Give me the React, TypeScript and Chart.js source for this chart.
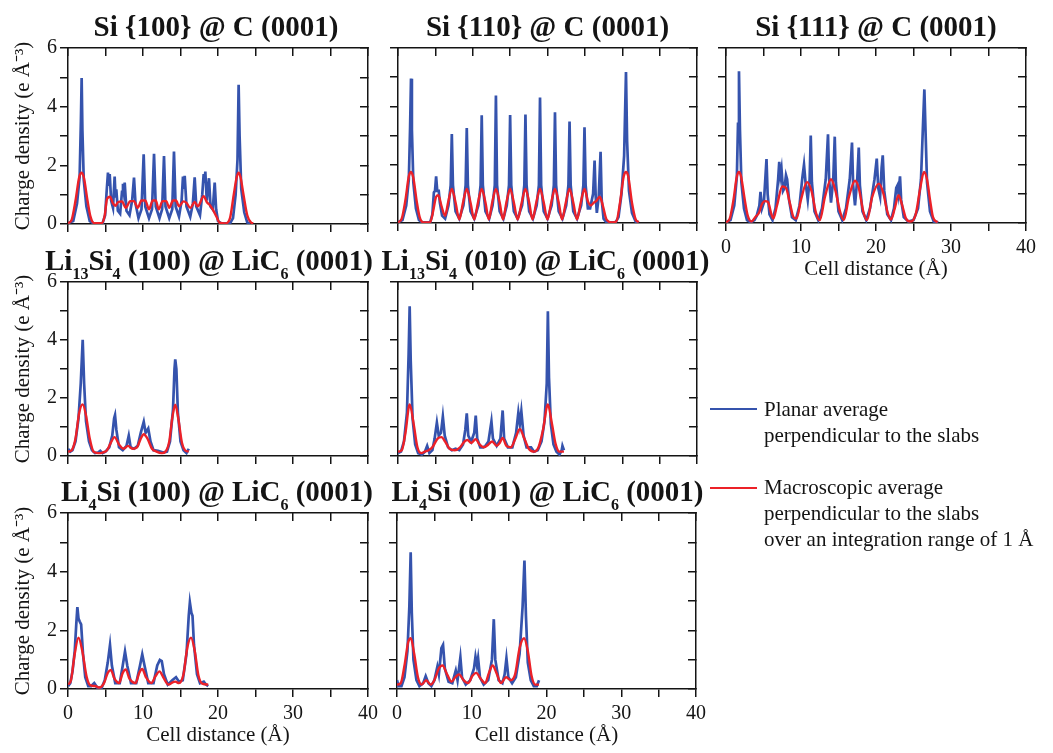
import React, { useEffect, useRef } from 'react';
import { Chart, registerables } from 'chart.js';

Chart.register(...registerables);

type Pt = [number, number];

// ---- axis ranges / ticks ----
const X_MIN = 0;
const X_MAX = 40;
const X_STEP = 5;
const xLabelEvery = 10;
const Y_MIN = 0;
const Y_MAX = 6;
const Y_STEP = 1;
const yLabelEvery = 2;

const xAxisTitle = 'Cell distance (Å)';
const yAxisTitle = 'Charge density (e Å⁻³)';
const legendPlanar = ['Planar average', 'perpendicular to the slabs'];
const legendMacro = ['Macroscopic average', 'perpendicular to the slabs', 'over an integration range of 1 Å'];

// ---- Si {100} @ C (0001) ----
const si100Planar: Pt[] = [[0,0.03],[0.7,0.1],[1.2,0.7],[1.55,1.6],[1.72,3.5],[1.82,4.98],[1.92,3.2],[2.1,1.5],[2.45,0.6],[2.9,0.1],[3.4,0.02],[4.6,0.02],[4.95,0.3],[5.15,1.1],[5.33,1.75],[5.45,1.3],[5.56,1.7],[5.75,0.8],[6.0,0.55],[6.22,1.62],[6.34,0.9],[6.44,1.18],[6.65,0.45],[6.95,0.35],[7.2,1.1],[7.33,1.37],[7.45,1.1],[7.56,1.41],[7.8,0.45],[8.2,0.3],[8.55,0.8],[8.8,1.58],[9.0,0.7],[9.4,0.2],[9.8,0.5],[10.09,2.38],[10.3,0.6],[10.8,0.2],[11.2,0.5],[11.47,2.39],[11.7,0.6],[12.2,0.2],[12.55,0.5],[12.8,2.32],[13.0,0.6],[13.5,0.2],[13.9,0.5],[14.13,2.47],[14.35,0.6],[14.8,0.25],[15.15,0.8],[15.33,1.62],[15.45,1.2],[15.56,1.64],[15.8,0.6],[16.3,0.25],[16.65,0.7],[16.89,1.59],[17.1,0.6],[17.6,0.3],[17.9,1.0],[18.09,1.7],[18.2,1.4],[18.31,1.79],[18.5,0.8],[18.8,1.56],[19.0,0.6],[19.3,0.5],[19.56,1.41],[19.75,0.5],[20.0,0.1],[20.4,0.02],[21.6,0.02],[22.0,0.2],[22.35,1.0],[22.6,2.2],[22.75,4.75],[22.88,3.0],[23.1,1.2],[23.5,0.4],[23.9,0.05],[24.3,0.02]];
const si100Macro: Pt[] = [[0,0.02],[0.5,0.15],[1.0,0.8],[1.5,1.6],[1.8,1.75],[2.1,1.6],[2.6,0.8],[3.0,0.25],[3.5,0.03],[4.5,0.03],[4.9,0.3],[5.2,0.85],[5.6,0.93],[6.0,0.7],[6.3,0.62],[6.7,0.75],[7.2,0.77],[7.7,0.55],[8.3,0.78],[8.8,0.78],[9.3,0.55],[9.8,0.8],[10.3,0.8],[10.8,0.5],[11.3,0.8],[11.7,0.8],[12.1,0.5],[12.6,0.78],[13.1,0.78],[13.5,0.55],[14.0,0.8],[14.4,0.8],[14.8,0.6],[15.4,0.77],[15.8,0.72],[16.3,0.55],[16.9,0.75],[17.3,0.6],[18.1,0.95],[18.5,0.75],[18.9,0.65],[19.3,0.5],[19.8,0.25],[20.2,0.05],[21.0,0.02],[21.6,0.2],[22.1,1.0],[22.5,1.6],[22.75,1.75],[23.0,1.6],[23.4,1.0],[23.9,0.3],[24.4,0.05],[24.7,0.02]];

// ---- Si {110} @ C (0001) ----
const si110Planar: Pt[] = [[0,0.03],[0.6,0.1],[1.1,0.6],[1.45,1.5],[1.62,3.3],[1.74,4.95],[1.86,3.2],[2.05,1.4],[2.4,0.5],[2.8,0.1],[3.2,0.02],[4.3,0.02],[4.6,0.3],[4.8,1.05],[4.95,1.1],[5.1,1.6],[5.25,1.1],[5.45,1.1],[5.6,0.7],[5.9,0.25],[6.3,0.15],[6.75,0.6],[7.05,1.3],[7.2,3.05],[7.35,1.3],[7.7,0.4],[8.2,0.15],[8.75,0.6],[9.05,1.3],[9.2,3.26],[9.35,1.3],[9.7,0.4],[10.2,0.15],[10.75,0.6],[11.05,1.3],[11.2,3.69],[11.35,1.3],[11.7,0.4],[12.2,0.15],[12.65,0.6],[12.95,1.3],[13.1,4.37],[13.25,1.3],[13.6,0.4],[14.1,0.15],[14.55,0.6],[14.85,1.3],[15.0,3.7],[15.15,1.3],[15.5,0.4],[16.0,0.15],[16.6,0.6],[16.9,1.3],[17.05,3.72],[17.2,1.3],[17.55,0.4],[18.05,0.15],[18.55,0.6],[18.85,1.3],[19.0,4.3],[19.15,1.3],[19.5,0.4],[20.0,0.15],[20.55,0.6],[20.85,1.3],[21.0,3.8],[21.15,1.3],[21.5,0.4],[22.0,0.15],[22.5,0.6],[22.8,1.3],[22.95,3.48],[23.1,1.3],[23.45,0.4],[23.95,0.15],[24.5,0.6],[24.8,1.3],[24.95,3.28],[25.1,1.3],[25.4,0.5],[25.7,0.5],[26.1,1.0],[26.3,2.14],[26.45,0.9],[26.6,0.35],[26.85,0.9],[27.1,2.44],[27.25,0.8],[27.5,0.15],[27.9,0.02],[29.1,0.02],[29.5,0.2],[29.9,1.0],[30.25,2.3],[30.5,5.18],[30.65,2.8],[30.9,1.1],[31.3,0.35],[31.8,0.05],[32.2,0.02]];
const si110Macro: Pt[] = [[0,0.02],[0.5,0.15],[1.0,0.8],[1.45,1.6],[1.74,1.75],[2.05,1.55],[2.5,0.75],[2.9,0.2],[3.4,0.02],[4.3,0.03],[4.7,0.4],[5.1,0.9],[5.4,0.95],[5.8,0.6],[6.3,0.25],[6.7,0.7],[7.2,1.17],[7.7,0.7],[8.2,0.12],[8.7,0.7],[9.2,1.17],[9.7,0.7],[10.2,0.12],[10.7,0.7],[11.2,1.17],[11.7,0.7],[12.15,0.12],[12.6,0.7],[13.1,1.17],[13.6,0.7],[14.05,0.12],[14.5,0.7],[15.0,1.17],[15.5,0.7],[16.0,0.12],[16.55,0.7],[17.05,1.17],[17.55,0.7],[18.0,0.12],[18.5,0.7],[19.0,1.17],[19.5,0.7],[20.0,0.12],[20.5,0.7],[21.0,1.17],[21.5,0.7],[21.95,0.12],[22.45,0.7],[22.95,1.17],[23.45,0.7],[23.95,0.12],[24.45,0.7],[24.95,1.17],[25.4,0.75],[25.8,0.6],[26.2,0.7],[26.5,0.75],[27.0,0.9],[27.4,0.6],[27.9,0.12],[28.6,0.02],[29.2,0.05],[29.7,0.7],[30.2,1.6],[30.5,1.75],[30.8,1.6],[31.3,0.7],[31.8,0.12],[32.2,0.03]];

// ---- Si {111} @ C (0001) ----
const si111Planar: Pt[] = [[0,0.03],[0.6,0.1],[1.1,0.6],[1.45,1.6],[1.6,3.4],[1.73,5.2],[1.86,3.2],[2.05,1.4],[2.4,0.5],[2.8,0.1],[3.3,0.02],[3.8,0.1],[4.1,0.25],[4.45,0.6],[4.6,1.07],[4.8,0.5],[5.05,0.7],[5.4,2.19],[5.55,1.0],[5.8,0.3],[6.2,0.1],[6.6,0.5],[6.95,1.5],[7.1,2.1],[7.25,1.6],[7.4,1.85],[7.6,1.1],[7.8,1.2],[8.0,1.64],[8.15,1.5],[8.4,0.8],[8.8,0.2],[9.3,0.1],[9.8,0.6],[10.2,1.6],[10.4,2.0],[10.6,1.4],[10.9,0.8],[11.15,1.5],[11.3,3.0],[11.45,1.4],[11.8,0.4],[12.3,0.1],[12.8,0.5],[13.3,1.5],[13.6,3.04],[13.75,1.5],[14.0,0.7],[14.3,1.5],[14.5,2.96],[14.65,1.4],[15.0,0.4],[15.5,0.1],[16.0,0.5],[16.5,1.5],[16.8,2.76],[16.95,1.3],[17.2,0.6],[17.5,1.5],[17.7,2.59],[17.85,1.3],[18.2,0.4],[18.7,0.1],[19.2,0.5],[19.8,1.5],[20.1,2.21],[20.3,1.2],[20.55,0.9],[20.75,1.9],[20.9,2.32],[21.1,1.1],[21.5,0.3],[22.0,0.1],[22.4,0.5],[22.7,1.2],[22.85,1.28],[23.0,1.0],[23.2,1.6],[23.35,0.8],[23.7,0.2],[24.3,0.05],[25.0,0.1],[25.6,0.5],[26.0,1.5],[26.3,3.6],[26.45,4.58],[26.6,3.2],[26.8,1.4],[27.2,0.4],[27.7,0.05],[28.3,0.02]];
const si111Macro: Pt[] = [[0,0.02],[0.5,0.15],[1.0,0.8],[1.45,1.6],[1.73,1.75],[2.0,1.6],[2.5,0.8],[2.9,0.25],[3.4,0.05],[3.9,0.2],[4.4,0.35],[4.8,0.65],[5.2,0.75],[5.6,0.72],[6.0,0.35],[6.3,0.15],[6.8,0.6],[7.5,1.25],[8.0,1.2],[8.5,0.7],[9.0,0.2],[9.4,0.15],[10.0,0.8],[10.8,1.4],[11.4,1.1],[12.0,0.35],[12.5,0.1],[13.2,0.9],[14.0,1.5],[14.6,1.1],[15.2,0.4],[15.7,0.1],[16.4,0.9],[17.2,1.45],[17.7,1.2],[18.3,0.4],[18.8,0.1],[19.5,0.9],[20.4,1.35],[21.0,1.0],[21.5,0.4],[22.0,0.12],[22.5,0.5],[23.0,0.95],[23.5,0.6],[24.0,0.15],[24.6,0.05],[25.3,0.3],[25.9,1.2],[26.4,1.75],[26.8,1.5],[27.2,0.8],[27.6,0.2],[28.2,0.02]];

// ---- Li13Si4 (100) @ LiC6 (0001) ----
const li13Si4_100Planar: Pt[] = [[0,0.25],[0.3,0.15],[0.6,0.2],[1.0,0.5],[1.4,1.3],[1.7,2.5],[1.96,4.01],[2.15,2.5],[2.4,1.2],[2.8,0.5],[3.2,0.2],[3.6,0.1],[4.0,0.12],[4.3,0.18],[4.6,0.1],[5.0,0.15],[5.5,0.3],[5.9,0.7],[6.15,1.3],[6.27,1.41],[6.45,0.9],[6.8,0.3],[7.3,0.2],[7.8,0.35],[8.1,0.7],[8.35,0.3],[8.8,0.25],[9.3,0.35],[9.7,0.8],[10.1,1.18],[10.35,0.8],[10.7,0.95],[11.0,0.5],[11.4,0.2],[12.0,0.18],[12.7,0.12],[13.2,0.15],[13.6,0.5],[14.0,1.6],[14.2,3.0],[14.3,3.33],[14.45,3.0],[14.65,1.5],[15.0,0.5],[15.4,0.2],[15.8,0.1],[16.1,0.25]];
const li13Si4_100Macro: Pt[] = [[0,0.15],[0.5,0.2],[1.0,0.6],[1.5,1.5],[1.96,1.78],[2.4,1.4],[2.9,0.6],[3.4,0.15],[4.0,0.1],[4.6,0.12],[5.2,0.2],[5.7,0.45],[6.2,0.65],[6.8,0.4],[7.4,0.25],[8.0,0.35],[8.6,0.25],[9.2,0.3],[9.7,0.6],[10.1,0.75],[10.6,0.6],[11.2,0.25],[11.8,0.15],[12.5,0.1],[13.0,0.15],[13.5,0.5],[13.9,1.3],[14.3,1.77],[14.7,1.3],[15.2,0.45],[15.6,0.2],[16.1,0.15]];

// ---- Li13Si4 (010) @ LiC6 (0001) ----
const li13Si4_010Planar: Pt[] = [[0,0.1],[0.4,0.15],[0.8,0.5],[1.2,1.5],[1.42,3.5],[1.56,5.16],[1.7,3.3],[1.95,1.3],[2.3,0.4],[2.7,0.1],[3.2,0.05],[3.6,0.15],[3.9,0.35],[4.2,0.1],[4.6,0.2],[4.9,0.6],[5.2,1.15],[5.45,0.7],[5.75,0.8],[6.0,1.36],[6.25,0.7],[6.7,0.3],[7.2,0.2],[7.7,0.25],[8.2,0.2],[8.7,0.4],[9.0,0.9],[9.2,1.47],[9.4,0.7],[9.8,0.5],[10.2,0.8],[10.4,1.39],[10.6,0.6],[11.0,0.3],[11.4,0.3],[11.7,0.35],[12.1,0.5],[12.5,1.19],[12.7,0.6],[13.2,0.35],[13.7,0.6],[14.0,1.57],[14.2,0.6],[14.7,0.3],[15.3,0.3],[15.8,0.8],[16.1,1.5],[16.3,1.1],[16.5,1.54],[16.8,0.7],[17.2,0.3],[17.8,0.3],[18.2,0.15],[18.7,0.2],[19.2,0.5],[19.6,1.2],[19.9,2.5],[20.05,4.99],[20.2,2.7],[20.45,1.1],[20.8,0.4],[21.2,0.15],[21.6,0.05],[21.9,0.2],[22.0,0.35],[22.2,0.2]];
const li13Si4_010Macro: Pt[] = [[0,0.15],[0.5,0.2],[1.0,0.8],[1.56,1.78],[2.1,1.1],[2.6,0.3],[3.1,0.1],[3.6,0.15],[4.1,0.2],[4.6,0.3],[5.3,0.6],[5.8,0.65],[6.3,0.5],[6.9,0.25],[7.6,0.2],[8.3,0.3],[8.9,0.5],[9.3,0.55],[9.8,0.45],[10.4,0.58],[10.9,0.4],[11.5,0.3],[12.1,0.4],[12.6,0.5],[13.2,0.35],[13.6,0.45],[14.0,0.62],[14.5,0.35],[15.1,0.3],[15.7,0.6],[16.3,0.93],[16.9,0.6],[17.5,0.25],[18.2,0.15],[18.8,0.3],[19.4,0.9],[20.05,1.78],[20.6,1.1],[21.1,0.4],[21.6,0.15],[22.2,0.15]];

// ---- Li4Si (100) @ LiC6 (0001) ----
const li4Si_100Planar: Pt[] = [[0,0.1],[0.3,0.2],[0.6,0.6],[0.9,1.3],[1.1,2.2],[1.25,2.79],[1.4,2.4],[1.56,2.3],[1.75,2.2],[2.0,1.2],[2.3,0.4],[2.7,0.1],[3.1,0.1],[3.5,0.2],[3.9,0.05],[4.5,0.05],[4.9,0.3],[5.3,0.9],[5.6,1.5],[5.85,0.8],[6.3,0.2],[6.9,0.2],[7.3,0.8],[7.6,1.28],[7.9,0.8],[8.4,0.2],[9.1,0.2],[9.6,0.8],[9.9,1.18],[10.2,0.8],[10.7,0.2],[11.4,0.2],[11.9,0.8],[12.25,0.99],[12.5,0.95],[12.8,0.5],[13.3,0.15],[13.9,0.3],[14.4,0.4],[14.8,0.25],[15.3,0.3],[15.8,1.2],[16.1,2.5],[16.25,2.95],[16.45,2.6],[16.6,2.5],[16.8,1.5],[17.2,0.5],[17.6,0.2],[18.1,0.25],[18.4,0.15],[18.7,0.1]];
const li4Si_100Macro: Pt[] = [[0,0.15],[0.4,0.3],[0.9,1.2],[1.4,1.75],[1.9,1.3],[2.5,0.4],[3.0,0.12],[3.6,0.1],[4.2,0.05],[4.8,0.2],[5.3,0.55],[5.7,0.65],[6.2,0.35],[6.8,0.2],[7.3,0.55],[7.7,0.67],[8.2,0.35],[9.0,0.2],[9.5,0.55],[9.9,0.68],[10.4,0.4],[11.1,0.2],[11.7,0.45],[12.2,0.6],[12.7,0.4],[13.4,0.15],[13.9,0.22],[14.3,0.25],[14.8,0.2],[15.4,0.5],[15.9,1.4],[16.4,1.75],[16.9,1.3],[17.4,0.45],[17.9,0.18],[18.7,0.15]];

// ---- Li4Si (001) @ LiC6 (0001) ----
const li4Si_001Planar: Pt[] = [[0,0.3],[0.2,0.1],[0.6,0.1],[1.0,0.4],[1.4,1.3],[1.65,2.8],[1.83,4.66],[1.98,2.6],[2.2,1.0],[2.6,0.3],[3.0,0.1],[3.5,0.2],[3.84,0.44],[4.2,0.2],[4.6,0.1],[5.0,0.3],[5.4,0.76],[5.6,0.5],[5.94,1.39],[6.16,1.5],[6.4,0.7],[6.9,0.25],[7.4,0.2],[7.86,0.63],[8.1,0.3],[8.48,1.08],[8.7,0.4],[9.2,0.15],[9.8,0.3],[10.3,0.7],[10.5,1.1],[10.7,0.8],[10.85,1.05],[11.1,0.4],[11.6,0.15],[12.2,0.3],[12.7,1.0],[12.95,2.38],[13.15,1.0],[13.6,0.3],[14.1,0.2],[14.4,0.5],[14.64,1.05],[14.9,0.4],[15.4,0.2],[15.9,0.4],[16.4,1.2],[16.8,2.8],[17.05,4.38],[17.25,2.5],[17.5,0.9],[17.9,0.3],[18.3,0.1],[18.7,0.1],[19.0,0.3]];
const li4Si_001Macro: Pt[] = [[0,0.15],[0.5,0.2],[1.0,0.8],[1.5,1.6],[1.85,1.73],[2.3,1.2],[2.8,0.4],[3.3,0.15],[3.9,0.3],[4.5,0.15],[5.0,0.3],[5.6,0.7],[6.1,0.8],[6.7,0.5],[7.3,0.25],[7.8,0.4],[8.3,0.5],[8.9,0.3],[9.5,0.2],[10.1,0.45],[10.6,0.55],[11.2,0.35],[11.8,0.2],[12.3,0.55],[12.8,0.8],[13.3,0.55],[13.9,0.2],[14.6,0.4],[15.2,0.3],[15.8,0.5],[16.4,1.4],[17.0,1.73],[17.5,1.3],[18.0,0.45],[18.5,0.15],[19.0,0.15]];

// ---- styling ----
const FONT = "'Liberation Serif', 'Times New Roman', Times, serif";
const BLUE = '#3553ad';
const RED = '#ec2128';
const INK = '#141414';

type TitlePart = [string, boolean];

interface PanelDef {
  title: TitlePart[];
  l: number; t: number; r: number; b: number;
  showY: boolean; showX: boolean;
  titleTop: number; titleShift: number;
  planar: Pt[]; macro: Pt[];
}

const panels: PanelDef[] = [
  { title: [['Si {100} @ C (0001)', false]], l: 68, t: 48, r: 368, b: 224, showY: true, showX: false, titleTop: 12, titleShift: -2, planar: si100Planar, macro: si100Macro },
  { title: [['Si {110} @ C (0001)', false]], l: 398, t: 48, r: 697, b: 223, showY: false, showX: false, titleTop: 12, titleShift: 0, planar: si110Planar, macro: si110Macro },
  { title: [['Si {111} @ C (0001)', false]], l: 726, t: 48, r: 1026, b: 223, showY: false, showX: true, titleTop: 12, titleShift: 0, planar: si111Planar, macro: si111Macro },
  { title: [['Li', false], ['13', true], ['Si', false], ['4', true], [' (100) @ LiC', false], ['6', true], [' (0001)', false]], l: 68, t: 282, r: 368, b: 456, showY: true, showX: false, titleTop: 246, titleShift: -9, planar: li13Si4_100Planar, macro: li13Si4_100Macro },
  { title: [['Li', false], ['13', true], ['Si', false], ['4', true], [' (010) @ LiC', false], ['6', true], [' (0001)', false]], l: 398, t: 282, r: 697, b: 456, showY: false, showX: false, titleTop: 246, titleShift: -2, planar: li13Si4_010Planar, macro: li13Si4_010Macro },
  { title: [['Li', false], ['4', true], ['Si (100) @ LiC', false], ['6', true], [' (0001)', false]], l: 68, t: 513, r: 368, b: 689, showY: true, showX: true, titleTop: 477, titleShift: -1, planar: li4Si_100Planar, macro: li4Si_100Macro },
  { title: [['Li', false], ['4', true], ['Si (001) @ LiC', false], ['6', true], [' (0001)', false]], l: 397, t: 513, r: 696, b: 689, showY: false, showX: true, titleTop: 477, titleShift: 1, planar: li4Si_001Planar, macro: li4Si_001Macro },
];

const PAD = 14;

function Panel({ p }: { p: PanelDef }) {
  const ref = useRef<HTMLCanvasElement>(null);
  const yw = p.showY ? p.l - 7 : 12;
  const xh = p.showX ? 63 : 12;
  const cl = p.l - yw;
  const ct = p.t - PAD;
  const cw = p.r + PAD - cl;
  const ch = p.b + xh - ct;

  useEffect(() => {
    if (!ref.current) return;
    const tickFont = { family: FONT, size: 20 };
    const titleFont = { family: FONT, size: 21 };
    const axisCommon = (dir: 'x' | 'y', inner: boolean) => ({
      type: 'linear' as const,
      min: dir === 'x' ? X_MIN : Y_MIN,
      max: dir === 'x' ? X_MAX : Y_MAX,
      grid: { display: true, drawOnChartArea: false, drawTicks: true, tickLength: inner ? -8 : 8, color: INK, lineWidth: 1.5 },
      border: { display: true, color: INK, width: 1.5 },
    });
    const chart = new Chart(ref.current, {
      type: 'line',
      data: {
        datasets: [
          {
            label: 'macro',
            data: p.macro.map(([x, y]) => ({ x, y })),
            borderColor: RED,
            borderWidth: 2.4,
            pointRadius: 0,
            cubicInterpolationMode: 'monotone',
            fill: false,
            order: 0,
          },
          {
            label: 'planar',
            data: p.planar.map(([x, y]) => ({ x, y })),
            borderColor: BLUE,
            borderWidth: 2.7,
            pointRadius: 0,
            tension: 0,
            fill: false,
            order: 1,
          },
        ],
      },
      options: {
        animation: false,
        responsive: false,
        devicePixelRatio: 1,
        events: [],
        layout: { padding: { left: 0, top: PAD, right: PAD, bottom: 0 } },
        plugins: { legend: { display: false }, title: { display: false }, tooltip: { enabled: false } },
        scales: {
          x: {
            ...axisCommon('x', false),
            position: 'bottom',
            afterFit: (s: any) => { s.height = xh; s.paddingLeft = 0; s.paddingRight = 0; },
            ticks: {
              display: p.showX, stepSize: X_STEP, autoSkip: false, maxRotation: 0, padding: 5,
              color: INK, font: tickFont,
              callback: (v: any) => (Number(v) % xLabelEvery === 0 ? String(v) : ''),
            },
            title: { display: p.showX, text: xAxisTitle, color: INK, font: titleFont, padding: { top: 0, bottom: 4 } },
          },
          x2: {
            ...axisCommon('x', true),
            position: 'top',
            afterFit: (s: any) => { s.height = 0; s.paddingLeft = 0; s.paddingRight = 0; },
            ticks: { display: false, stepSize: X_STEP, autoSkip: false },
          },
          y: {
            ...axisCommon('y', false),
            position: 'left',
            afterFit: (s: any) => { s.width = yw; s.paddingTop = 0; s.paddingBottom = 0; },
            ticks: {
              display: p.showY, stepSize: Y_STEP, autoSkip: false, padding: 3,
              color: INK, font: tickFont,
              callback: (v: any) => (Number(v) % yLabelEvery === 0 ? String(v) : ''),
            },
            title: { display: p.showY, text: yAxisTitle, color: INK, font: titleFont, padding: { top: 4, bottom: 0 } },
          },
          y2: {
            ...axisCommon('y', true),
            position: 'right',
            afterFit: (s: any) => { s.width = 0; s.paddingTop = 0; s.paddingBottom = 0; },
            ticks: { display: false, stepSize: Y_STEP, autoSkip: false },
          },
        },
      } as any,
    });
    return () => chart.destroy();
  }, []);

  return (
    <canvas
      ref={ref}
      width={cw}
      height={ch}
      style={{ position: 'absolute', left: cl, top: ct, width: cw, height: ch }}
    />
  );
}

function Title({ p }: { p: PanelDef }) {
  const cx = (p.l + p.r) / 2 + p.titleShift;
  return (
    <div
      style={{
        position: 'absolute', left: cx - 300, top: p.titleTop, width: 600, textAlign: 'center',
        fontFamily: FONT, fontWeight: 'bold', fontSize: 29, lineHeight: '29px', color: INK, whiteSpace: 'nowrap',
      }}
    >
      {p.title.map(([txt, sub], i) =>
        sub ? (
          <span key={i} style={{ fontSize: 16, verticalAlign: -9, lineHeight: '0px' }}>{txt}</span>
        ) : (
          <span key={i}>{txt}</span>
        )
      )}
    </div>
  );
}

function LegendEntry({ color, lines, lineY, textTop }: { color: string; lines: string[]; lineY: number; textTop: number }) {
  return (
    <>
      <div style={{ position: 'absolute', left: 710, top: lineY - 1, width: 47, height: 2, background: color }} />
      <div style={{ position: 'absolute', left: 764, top: textTop, fontFamily: FONT, fontSize: 21, lineHeight: '26px', color: INK, whiteSpace: 'nowrap' }}>
        {lines.map((ln, i) => (<div key={i}>{ln}</div>))}
      </div>
    </>
  );
}

export default function App() {
  return (
    <div style={{ position: 'absolute', left: 0, top: 0, width: 1053, height: 753, background: '#fff', overflow: 'hidden' }}>
      {panels.map((p, i) => (<Panel key={'c' + i} p={p} />))}
      {panels.map((p, i) => (<Title key={'t' + i} p={p} />))}
      <LegendEntry color={BLUE} lines={legendPlanar} lineY={409} textTop={396} />
      <LegendEntry color={RED} lines={legendMacro} lineY={488} textTop={474} />
    </div>
  );
}
